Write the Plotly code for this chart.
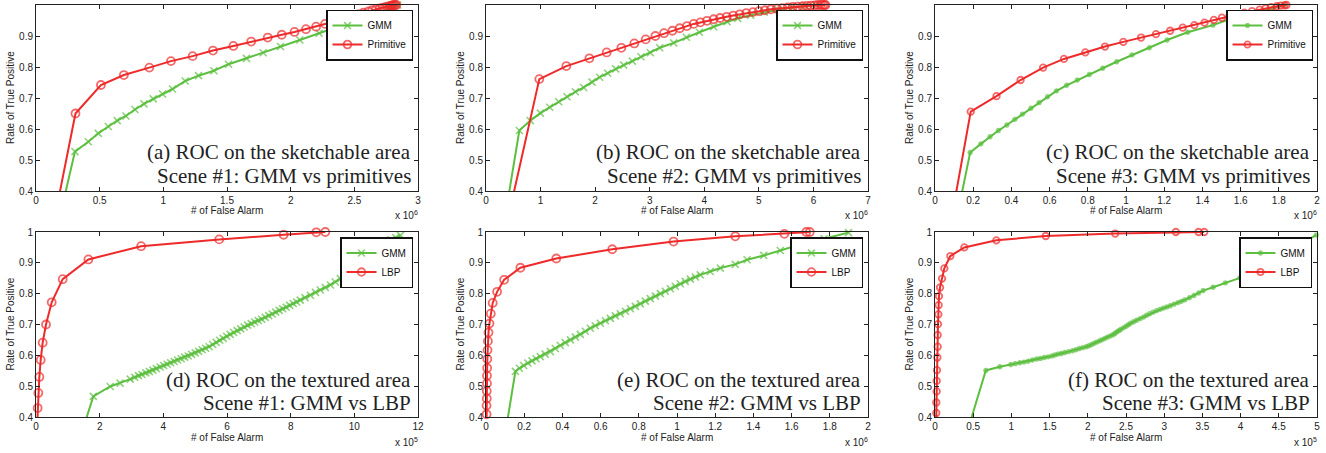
import plotly.graph_objects as go

W, H = 1326, 453

# ---------------- data (x in units shown on axis, i.e. scaled by 10^exp) ----------------
# (a) sketchable area, scene 1  (x 10^6)
gmm_a_x = [0.20, 0.306, 0.411, 0.489, 0.568, 0.638, 0.706, 0.777, 0.848, 0.921, 0.994, 1.072, 1.172, 1.276,
           1.397, 1.512, 1.653, 1.784, 1.920, 2.072, 2.223, 2.372, 2.52, 2.65, 2.76, 2.84]
gmm_a_y = [0.34, 0.527, 0.559, 0.586, 0.608, 0.627, 0.642, 0.663, 0.681, 0.697, 0.713, 0.729, 0.755, 0.772,
           0.788, 0.809, 0.828, 0.846, 0.866, 0.887, 0.909, 0.930, 0.950, 0.968, 0.985, 1.0]
prim_a_x = [0.15, 0.31, 0.51, 0.69, 0.89, 1.06, 1.23, 1.39, 1.55, 1.69, 1.82, 1.93, 2.03, 2.12, 2.20, 2.27,
            2.33, 2.39, 2.44, 2.49, 2.53, 2.57, 2.61, 2.64, 2.67, 2.70, 2.72, 2.74, 2.76, 2.78, 2.79, 2.80,
            2.81, 2.82, 2.83]
prim_a_y = [0.32, 0.650, 0.742, 0.774, 0.798, 0.819, 0.835, 0.853, 0.868, 0.882, 0.895, 0.904, 0.913, 0.922,
            0.930, 0.939, 0.946, 0.952, 0.958, 0.964, 0.970, 0.975, 0.979, 0.983, 0.986, 0.989, 0.991, 0.993,
            0.995, 0.997, 0.998, 0.999, 1.0, 1.0, 1.0]

# (b) sketchable area, scene 2  (x 10^6)
gmm_b_x = [0.35, 0.611, 0.812, 0.996, 1.167, 1.332, 1.484, 1.637, 1.790, 1.943, 2.083, 2.230, 2.376, 2.523,
           2.682, 2.840, 3.012, 3.183, 3.439, 3.671, 3.910, 4.172, 4.417, 4.612, 4.85, 5.10, 5.35, 5.60,
           5.85, 6.05]
gmm_b_y = [0.317, 0.595, 0.627, 0.651, 0.670, 0.688, 0.704, 0.720, 0.734, 0.751, 0.767, 0.780, 0.794, 0.806,
           0.819, 0.833, 0.846, 0.862, 0.878, 0.896, 0.912, 0.930, 0.946, 0.957, 0.967, 0.977, 0.985, 0.992,
           0.997, 1.0]
prim_b_x = [0.35, 0.977, 1.472, 1.894, 2.211, 2.480, 2.718, 2.926, 3.103, 3.262, 3.415, 3.549, 3.683, 3.806,
            3.928, 4.050, 4.172, 4.29, 4.41, 4.53, 4.65, 4.77, 4.89, 5.00, 5.11, 5.22, 5.33, 5.43, 5.53,
            5.62, 5.71, 5.80, 5.88, 5.95, 6.02, 6.08, 6.13, 6.17, 6.20, 6.22]
prim_b_y = [0.27, 0.761, 0.803, 0.828, 0.847, 0.862, 0.876, 0.889, 0.900, 0.909, 0.917, 0.925, 0.932, 0.939,
            0.944, 0.949, 0.954, 0.958, 0.962, 0.966, 0.970, 0.974, 0.977, 0.980, 0.983, 0.986, 0.988, 0.990,
            0.992, 0.994, 0.995, 0.996, 0.997, 0.998, 0.999, 1.0, 1.0, 1.0, 1.0, 1.0]

# (c) sketchable area, scene 3  (x 10^6)
gmm_c_x = [0.10, 0.184, 0.240, 0.288, 0.332, 0.376, 0.418, 0.458, 0.502, 0.545, 0.589, 0.636, 0.689, 0.745,
           0.808, 0.878, 0.951, 1.031, 1.122, 1.215, 1.323, 1.455, 1.542, 1.62, 1.70, 1.77, 1.83]
gmm_c_y = [0.27, 0.524, 0.552, 0.575, 0.595, 0.613, 0.631, 0.648, 0.667, 0.685, 0.704, 0.723, 0.741, 0.758,
           0.776, 0.796, 0.817, 0.839, 0.862, 0.887, 0.912, 0.935, 0.954, 0.966, 0.978, 0.99, 1.0]
prim_c_x = [0.08, 0.187, 0.322, 0.448, 0.566, 0.675, 0.787, 0.890, 0.986, 1.079, 1.157, 1.231, 1.297, 1.358,
            1.411, 1.460, 1.502, 1.542, 1.58, 1.62, 1.66, 1.70, 1.73, 1.76, 1.79, 1.81, 1.83, 1.84]
prim_c_y = [0.29, 0.656, 0.706, 0.758, 0.798, 0.826, 0.847, 0.866, 0.881, 0.895, 0.906, 0.917, 0.927, 0.935,
            0.943, 0.952, 0.959, 0.965, 0.970, 0.975, 0.980, 0.985, 0.989, 0.993, 0.996, 0.998, 0.999, 1.0]

# (d) textured area, scene 1  (x 10^5)
gmm_d_x = [1.45, 1.80, 2.33, 2.64, 2.96, 3.10, 3.22, 3.33, 3.45, 3.56, 3.67, 3.78, 3.90, 4.01, 4.12, 4.23,
           4.34, 4.45, 4.56, 4.67, 4.78, 4.89, 5.00, 5.11, 5.22, 5.33, 5.44, 5.55, 5.66, 5.77, 5.88, 5.99,
           6.10, 6.21, 6.32, 6.43, 6.54, 6.65, 6.76, 6.87, 6.98, 7.09, 7.20, 7.31, 7.42, 7.53, 7.64, 7.75,
           7.86, 7.97, 8.08, 8.19, 8.30, 8.45, 8.62, 8.78, 8.93, 9.09, 9.25, 9.40, 9.56, 9.72, 9.87, 10.03,
           10.19, 10.32, 10.45, 10.62, 10.80, 10.98, 11.15, 11.30, 11.45]
gmm_d_y = [0.353, 0.467, 0.499, 0.510, 0.523, 0.529, 0.534, 0.538, 0.543, 0.547, 0.552, 0.557, 0.562, 0.567,
           0.571, 0.576, 0.580, 0.585, 0.589, 0.594, 0.598, 0.603, 0.608, 0.613, 0.618, 0.623, 0.628, 0.635,
           0.642, 0.649, 0.655, 0.662, 0.668, 0.674, 0.680, 0.686, 0.692, 0.698, 0.703, 0.708, 0.713, 0.717,
           0.723, 0.729, 0.734, 0.740, 0.746, 0.751, 0.756, 0.762, 0.768, 0.773, 0.779, 0.787, 0.795, 0.804,
           0.812, 0.820, 0.828, 0.838, 0.849, 0.860, 0.871, 0.881, 0.892, 0.905, 0.919, 0.935, 0.951, 0.964,
           0.975, 0.982, 0.989]
lbp_d_x = [0.035, 0.052, 0.073, 0.105, 0.147, 0.210, 0.314, 0.493, 0.839, 1.646, 3.302, 5.755, 7.778, 8.805,
           9.088]
lbp_d_y = [0.37, 0.429, 0.478, 0.530, 0.585, 0.641, 0.700, 0.772, 0.847, 0.911, 0.954, 0.976, 0.991, 0.999,
           1.0]

# (e) textured area, scene 2  (x 10^6)
gmm_e_x = [0.09, 0.154, 0.175, 0.197, 0.219, 0.241, 0.262, 0.284, 0.310, 0.337, 0.363, 0.389, 0.415, 0.442,
           0.468, 0.494, 0.520, 0.546, 0.572, 0.599, 0.625, 0.651, 0.677, 0.703, 0.730, 0.756, 0.782, 0.808,
           0.834, 0.860, 0.887, 0.913, 0.939, 0.965, 0.991, 1.017, 1.043, 1.070, 1.096, 1.122, 1.174, 1.227,
           1.305, 1.367, 1.454, 1.541, 1.628, 1.77, 1.898]
gmm_e_y = [0.305, 0.548, 0.558, 0.567, 0.575, 0.582, 0.589, 0.596, 0.604, 0.612, 0.622, 0.632, 0.641, 0.650,
           0.659, 0.668, 0.678, 0.688, 0.696, 0.704, 0.712, 0.720, 0.728, 0.735, 0.743, 0.751, 0.759, 0.767,
           0.776, 0.784, 0.792, 0.800, 0.808, 0.816, 0.824, 0.832, 0.840, 0.847, 0.854, 0.861, 0.872, 0.883,
           0.895, 0.910, 0.924, 0.940, 0.956, 0.978, 0.998]
lbp_e_x = [0.003, 0.003, 0.003, 0.004, 0.004, 0.005, 0.005, 0.006, 0.007, 0.008, 0.010, 0.013, 0.018, 0.025,
           0.035, 0.058, 0.095, 0.180, 0.368, 0.661, 0.982, 1.305, 1.562, 1.677, 1.695]
lbp_e_y = [0.38, 0.409, 0.437, 0.460, 0.484, 0.509, 0.534, 0.559, 0.588, 0.617, 0.646, 0.674, 0.703, 0.735,
           0.770, 0.806, 0.845, 0.884, 0.914, 0.944, 0.969, 0.986, 0.994, 1.0, 1.0]

# (f) textured area, scene 3  (x 10^5)
gmm_f_x = [0.40, 0.665, 0.848, 0.992, 1.05, 1.11, 1.165, 1.22, 1.275, 1.33, 1.38, 1.43, 1.48, 1.53, 1.57,
           1.61, 1.655, 1.70, 1.75, 1.80, 1.845, 1.89, 1.935, 1.98, 2.015, 2.05, 2.085, 2.12, 2.155, 2.19,
           2.225, 2.26, 2.295, 2.33, 2.355, 2.38, 2.405, 2.43, 2.465, 2.50, 2.53, 2.56, 2.60, 2.64, 2.685,
           2.73, 2.77, 2.81, 2.855, 2.90, 2.945, 2.99, 3.035, 3.08, 3.13, 3.18, 3.225, 3.27, 3.33, 3.39, 3.45,
           3.51, 3.64, 3.80, 3.99, 4.12, 4.27, 4.45, 4.70, 4.99]
gmm_f_y = [0.334, 0.551, 0.563, 0.570, 0.573, 0.576, 0.578, 0.581, 0.585, 0.588, 0.590, 0.593, 0.595, 0.598,
           0.601, 0.604, 0.606, 0.609, 0.612, 0.615, 0.618, 0.622, 0.625, 0.628, 0.631, 0.635, 0.639, 0.643,
           0.647, 0.651, 0.655, 0.659, 0.663, 0.667, 0.671, 0.676, 0.680, 0.684, 0.689, 0.694, 0.699, 0.704,
           0.709, 0.714, 0.719, 0.724, 0.730, 0.735, 0.740, 0.745, 0.749, 0.753, 0.757, 0.761, 0.766, 0.771,
           0.775, 0.780, 0.787, 0.794, 0.802, 0.810, 0.821, 0.835, 0.851, 0.875, 0.893, 0.915, 0.950, 0.990]
lbp_f_x = [0.015, 0.017, 0.017, 0.022, 0.022, 0.026, 0.031, 0.035, 0.035, 0.039, 0.044, 0.048, 0.052, 0.066,
           0.092, 0.122, 0.201, 0.384, 0.803, 1.450, 2.358, 3.153, 3.450, 3.524]
lbp_f_y = [0.38, 0.413, 0.447, 0.483, 0.517, 0.552, 0.593, 0.628, 0.666, 0.701, 0.733, 0.763, 0.792, 0.820,
           0.849, 0.882, 0.922, 0.950, 0.973, 0.987, 0.995, 1.0, 1.0, 1.0]

# ---------------- tick labels / texts ----------------
y_tick_vals = [0.4, 0.5, 0.6, 0.7, 0.8, 0.9, 1.0]
y_tick_text = ['0.4', '0.5', '0.6', '0.7', '0.8', '0.9', '1']
x_ticks_a = [0, 0.5, 1, 1.5, 2, 2.5, 3]
x_ticktext_a = ['0', '0.5', '1', '1.5', '2', '2.5', '3']
x_ticks_b = [0, 1, 2, 3, 4, 5, 6, 7]
x_ticktext_b = ['0', '1', '2', '3', '4', '5', '6', '7']
x_ticks_c = [0, 0.2, 0.4, 0.6, 0.8, 1.0, 1.2, 1.4, 1.6, 1.8, 2.0]
x_ticktext_c = ['0', '0.2', '0.4', '0.6', '0.8', '1', '1.2', '1.4', '1.6', '1.8', '2']
x_ticks_d = [0, 2, 4, 6, 8, 10, 12]
x_ticktext_d = ['0', '2', '4', '6', '8', '10', '12']
x_ticks_e = x_ticks_c
x_ticktext_e = x_ticktext_c
x_ticks_f = [0, 0.5, 1, 1.5, 2, 2.5, 3, 3.5, 4, 4.5, 5]
x_ticktext_f = ['0', '0.5', '1', '1.5', '2', '2.5', '3', '3.5', '4', '4.5', '5']
x_ranges = [3, 7, 2, 12, 2, 5]
x_exponents = ['6', '6', '6', '5', '6', '5']
captions_1 = ['(a) ROC on the sketchable area', '(b) ROC on the sketchable area', '(c) ROC on the sketchable area',
              '(d) ROC on the textured area', '(e) ROC on the textured area', '(f) ROC on the textured area']
captions_2 = ['Scene #1: GMM vs primitives', 'Scene #2: GMM vs primitives', 'Scene #3: GMM vs primitives',
              'Scene #1: GMM vs LBP', 'Scene #2: GMM vs LBP', 'Scene #3: GMM vs LBP']
second_names = ['Primitive', 'Primitive', 'Primitive', 'LBP', 'LBP', 'LBP']

# ---------------- styling ----------------
GREEN = '#5cbf40'
RED = '#ee2a2a'
AX = '#222222'
SANS = 'Liberation Sans, Arial, Helvetica, sans-serif'
SERIF = 'Liberation Serif, Times New Roman, serif'


def px(v):
    return v / W


def py(v):
    return 1 - v / H


col_px = [(36, 418), (486, 868), (935, 1317)]
row_px = [(5, 191), (232, 417)]
legend_anchor = [(413, 9.5), (863, 9.5), (1313, 9.5), (413, 237), (863, 237), (1312, 237)]

gmm_series = [(gmm_a_x, gmm_a_y), (gmm_b_x, gmm_b_y), (gmm_c_x, gmm_c_y),
              (gmm_d_x, gmm_d_y), (gmm_e_x, gmm_e_y), (gmm_f_x, gmm_f_y)]
other_series = [(prim_a_x, prim_a_y), (prim_b_x, prim_b_y), (prim_c_x, prim_c_y),
                (lbp_d_x, lbp_d_y), (lbp_e_x, lbp_e_y), (lbp_f_x, lbp_f_y)]
x_ticks = [(x_ticks_a, x_ticktext_a), (x_ticks_b, x_ticktext_b), (x_ticks_c, x_ticktext_c),
           (x_ticks_d, x_ticktext_d), (x_ticks_e, x_ticktext_e), (x_ticks_f, x_ticktext_f)]

fig = go.Figure()
layout = dict(
    template='none',
    width=W, height=H,
    margin=dict(l=0, r=0, t=0, b=0, pad=0, autoexpand=False),
    paper_bgcolor='white', plot_bgcolor='white',
    showlegend=True,
)
annotations = []

for i in range(6):
    r, c = divmod(i, 3)
    x0, x1 = col_px[c]
    ytop, ybot = row_px[r]
    sfx = '' if i == 0 else str(i + 1)
    xa, ya = 'x' + sfx, 'y' + sfx
    leg = 'legend' + sfx
    small = c == 2  # panels (c) and (f) use smaller markers

    gx, gy = gmm_series[i]
    ox, oy = other_series[i]
    g_size = 4.5 if small else 7
    o_size = 6.5 if small else 8
    g_sizes = [0] + [g_size] * (len(gx) - 1)
    o_sizes = [0 if y < 0.4 else o_size for y in oy]

    fig.add_trace(go.Scatter(
        x=gx, y=gy, xaxis=xa, yaxis=ya, name='GMM', legend=leg, mode='lines+markers',
        line=dict(color=GREEN, width=2),
        marker=dict(symbol='asterisk-open' if small else 'x-thin-open', size=g_sizes, color=GREEN,
                    line=dict(color=GREEN, width=1.6)),
        cliponaxis=False))
    fig.add_trace(go.Scatter(
        x=ox, y=oy, xaxis=xa, yaxis=ya, name=second_names[i], legend=leg, mode='lines+markers',
        line=dict(color=RED, width=2),
        marker=dict(symbol='circle-open', size=o_sizes, color=RED, line=dict(color=RED, width=1.8)),
        cliponaxis=False))

    tv, tt = x_ticks[i]
    common = dict(showline=True, linecolor=AX, linewidth=1, mirror='ticks', ticks='inside', ticklen=4,
                  tickwidth=1, tickcolor=AX, showgrid=False, zeroline=False, automargin=False,
                  tickfont=dict(family=SANS, size=10, color=AX))
    layout['xaxis' + sfx] = dict(domain=[px(x0), px(x1)], range=[0, x_ranges[i]], anchor=ya,
                                 tickmode='array', tickvals=tv, ticktext=tt, **common)
    layout['yaxis' + sfx] = dict(domain=[py(ybot), py(ytop)], range=[0.4, 1.0], anchor=xa,
                                 tickmode='array', tickvals=y_tick_vals, ticktext=y_tick_text, **common)

    lx, ly = legend_anchor[i]
    layout[leg] = dict(x=px(lx), y=py(ly), xanchor='right', yanchor='top', xref='paper', yref='paper',
                       bgcolor='white', bordercolor='#111111', borderwidth=1.5,
                       font=dict(family=SANS, size=10, color='#111111'), tracegroupgap=0)

    # axis titles
    annotations.append(dict(text='# of False Alarm', x=px((x0 + x1) / 2), y=py(211 if r == 0 else 437.5),
                            xref='paper', yref='paper', xanchor='center', yanchor='middle', showarrow=False,
                            borderpad=0, font=dict(family=SANS, size=10, color=AX)))
    annotations.append(dict(text='Rate of True Positive', x=px(x0 - 26), y=py((ytop + ybot) / 2),
                            xref='paper', yref='paper', xanchor='center', yanchor='middle', showarrow=False,
                            borderpad=0, textangle=-90, font=dict(family=SANS, size=10, color=AX)))
    annotations.append(dict(text='x 10<sup>' + x_exponents[i] + '</sup>', x=px(x1 + 1),
                            y=py(215 if r == 0 else 441.5),
                            xref='paper', yref='paper', xanchor='right', yanchor='middle', showarrow=False,
                            borderpad=0, font=dict(family=SANS, size=10, color=AX)))
    # captions
    y1c, y2c = (152, 175.5) if r == 0 else (379.5, 403)
    annotations.append(dict(text=captions_1[i], x=px(x1 - 6), y=py(y1c), xref='paper', yref='paper',
                            xanchor='right', yanchor='middle', showarrow=False, borderpad=0,
                            font=dict(family=SERIF, size=21, color='#222222')))
    annotations.append(dict(text=captions_2[i], x=px(x1 - 6), y=py(y2c), xref='paper', yref='paper',
                            xanchor='right', yanchor='middle', showarrow=False, borderpad=0,
                            font=dict(family=SERIF, size=21, color='#222222')))

layout['annotations'] = annotations
fig.update_layout(**layout)
fig.write_html('out.html',
               config={'displayModeBar': False},
               post_script="document.body.style.margin='0';document.body.style.padding='0';")
